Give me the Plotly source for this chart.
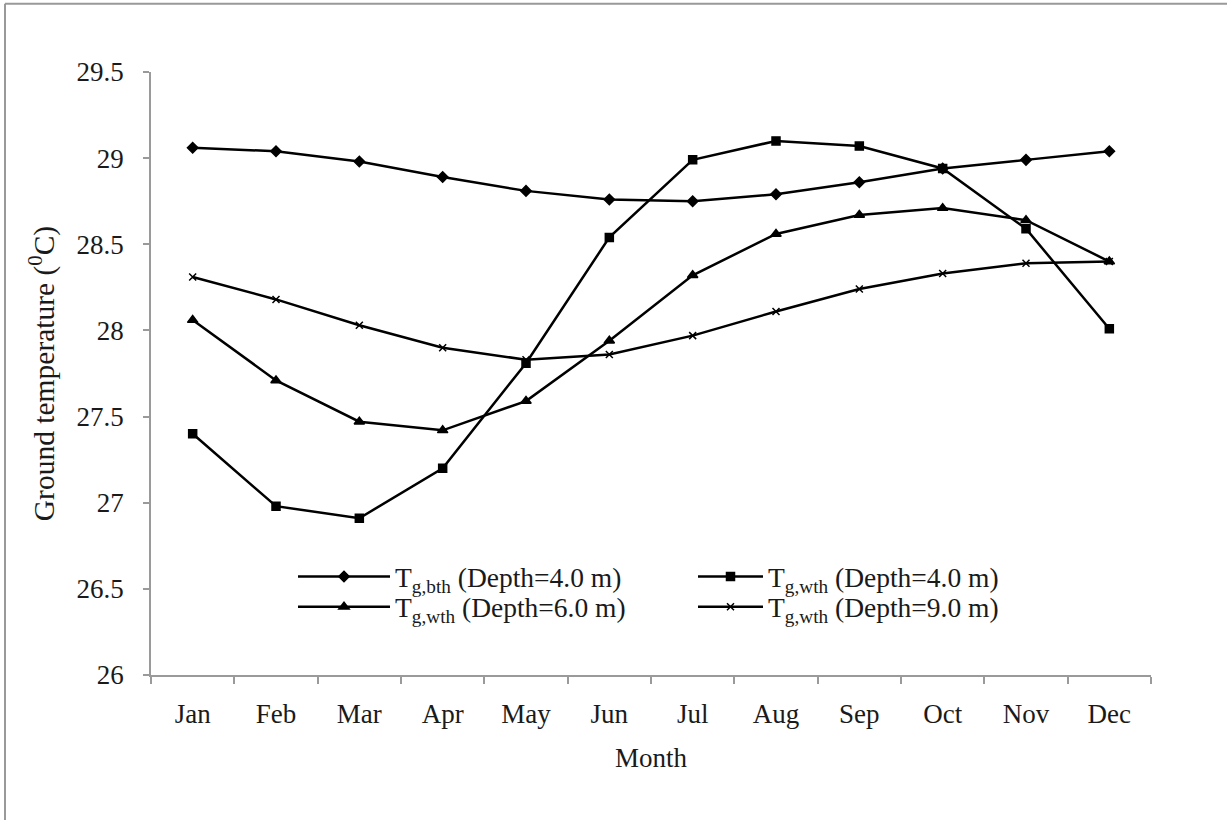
import plotly.graph_objects as go

months = ["Jan", "Feb", "Mar", "Apr", "May", "Jun", "Jul", "Aug", "Sep", "Oct", "Nov", "Dec"]
bth_4m = [29.06, 29.04, 28.98, 28.89, 28.81, 28.76, 28.75, 28.79, 28.86, 28.94, 28.99, 29.04]
wth_4m = [27.40, 26.98, 26.91, 27.20, 27.81, 28.54, 28.99, 29.10, 29.07, 28.94, 28.59, 28.01]
wth_6m = [28.06, 27.71, 27.47, 27.42, 27.59, 27.94, 28.32, 28.56, 28.67, 28.71, 28.64, 28.40]
wth_9m = [28.31, 28.18, 28.03, 27.90, 27.83, 27.86, 27.97, 28.11, 28.24, 28.33, 28.39, 28.40]
y_ticks = [26, 26.5, 27, 27.5, 28, 28.5, 29, 29.5]
y_tick_labels = ["26", "26.5", "27", "27.5", "28", "28.5", "29", "29.5"]

series = [
    ("T<sub>g,bth</sub> (Depth=4.0 m)", bth_4m, "diamond", 8, "legend"),
    ("T<sub>g,wth</sub> (Depth=4.0 m)", wth_4m, "square", 8, "legend2"),
    ("T<sub>g,wth</sub> (Depth=6.0 m)", wth_6m, "triangle-up", 9, "legend3"),
    ("T<sub>g,wth</sub> (Depth=9.0 m)", wth_9m, "x-thin", 7, "legend4"),
]

fig = go.Figure()
for name, vals, sym, sz, lg in series:
    fig.add_trace(go.Scatter(
        x=months, y=vals, name=name, mode="lines+markers", legend=lg,
        line=dict(color="black", width=2.5),
        marker=dict(symbol=sym, size=sz, color="black",
                    line=dict(color="black", width=1.5)),
    ))

font_family = "Liberation Serif, Times New Roman, serif"
axis_gray = "#9a9a9a"
txt = "#1a1a1a"

def leg(x, y, iw):
    return dict(x=x, y=y, xanchor="left", yanchor="middle", itemwidth=iw,
                font=dict(family=font_family, size=27.5, color=txt),
                bgcolor="rgba(0,0,0,0)", borderwidth=0)

fig.update_layout(
    width=1227, height=820,
    margin=dict(l=151, r=76, t=72, b=145),
    paper_bgcolor="white", plot_bgcolor="white",
    font=dict(family=font_family, size=27, color=txt),
    showlegend=True,
    legend=leg(0.142, 0.163, 92),
    legend2=leg(0.542, 0.163, 65),
    legend3=leg(0.142, 0.113, 92),
    legend4=leg(0.542, 0.113, 65),
    xaxis=dict(
        type="category", range=[-0.5, 11.5], showgrid=False, showline=True,
        linecolor=axis_gray, linewidth=1.5,
        ticks="outside", tickson="boundaries", ticklen=7, tickcolor=axis_gray, tickwidth=1.5,
        ticklabelstandoff=14,
        title=dict(text="Month", standoff=20, font=dict(size=27)),
        tickfont=dict(size=27), zeroline=False,
    ),
    yaxis=dict(
        range=[26, 29.5], tickvals=y_ticks, ticktext=y_tick_labels,
        showgrid=False, showline=True, linecolor=axis_gray, linewidth=1.5,
        ticks="outside", ticklen=6, tickcolor=axis_gray, tickwidth=1.5,
        ticklabelstandoff=14,
        title=dict(text="Ground temperature (<sup>0</sup>C)", standoff=13, font=dict(size=29.5)),
        tickfont=dict(size=27), zeroline=False,
    ),
    shapes=[
        dict(type="line", xref="paper", yref="paper", x0=-0.146, x1=-0.146, y0=-0.3, y1=1.113,
             line=dict(color="#999", width=2)),
        dict(type="line", xref="paper", yref="paper", x0=-0.146, x1=1.2, y0=1.113, y1=1.113,
             line=dict(color="#999", width=2)),
    ],
)

fig.write_html("out.html")
